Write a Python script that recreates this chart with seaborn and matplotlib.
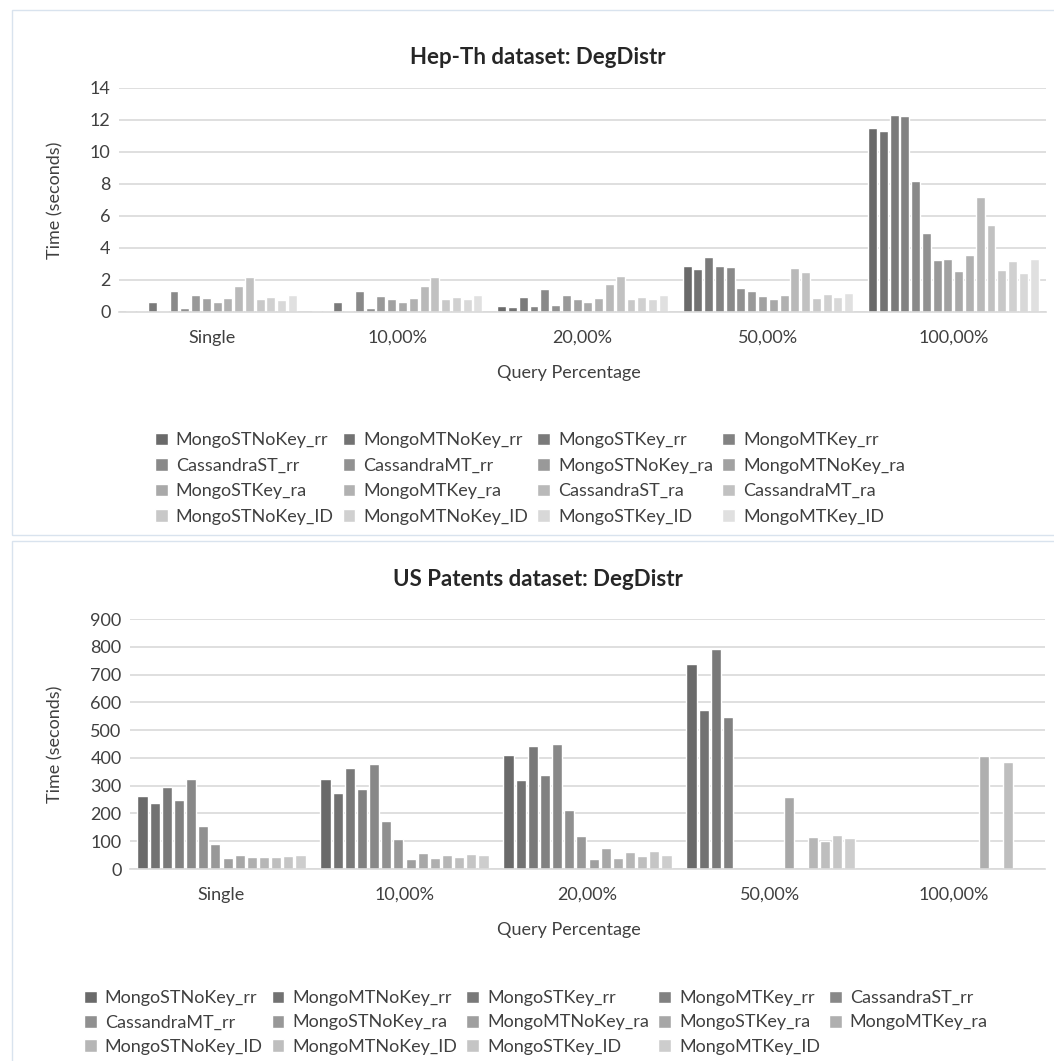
import numpy as np
import pandas as pd
import seaborn as sns
import matplotlib.pyplot as plt
from matplotlib.patches import Rectangle

# categories
groups = ["Single", "10,00%", "20,00%", "50,00%", "100,00%"]

# Hep-Th series (16)
hep_series = ["MongoSTNoKey_rr", "MongoMTNoKey_rr", "MongoSTKey_rr", "MongoMTKey_rr",
              "CassandraST_rr", "CassandraMT_rr", "MongoSTNoKey_ra", "MongoMTNoKey_ra",
              "MongoSTKey_ra", "MongoMTKey_ra", "CassandraST_ra", "CassandraMT_ra",
              "MongoSTNoKey_ID", "MongoMTNoKey_ID", "MongoSTKey_ID", "MongoMTKey_ID"]
hep_single = [0.06, 0.05, 0.6, 0.05, 1.3, 0.25, 1.05, 0.88, 0.6, 0.88, 1.6, 2.17, 0.8, 0.92, 0.73, 1.05]
hep_10 = [0.05, 0.05, 0.6, 0.05, 1.3, 0.25, 1.0, 0.8, 0.6, 0.85, 1.6, 2.17, 0.8, 0.92, 0.8, 1.05]
hep_20 = [0.35, 0.3, 0.92, 0.35, 1.42, 0.42, 1.05, 0.8, 0.6, 0.85, 1.73, 2.23, 0.8, 0.92, 0.8, 1.05]
hep_50 = [2.86, 2.67, 3.42, 2.86, 2.8, 1.48, 1.3, 0.98, 0.8, 1.05, 2.73, 2.48, 0.86, 1.1, 0.92, 1.17]
hep_100 = [11.5, 11.32, 12.32, 12.25, 8.18, 4.93, 3.24, 3.3, 2.55, 3.55, 7.18, 5.43, 2.61, 3.17, 2.42, 3.3]

# US Patents series (14), NaN = no bar
us_series = ["MongoSTNoKey_rr", "MongoMTNoKey_rr", "MongoSTKey_rr", "MongoMTKey_rr",
             "CassandraST_rr", "CassandraMT_rr", "MongoSTNoKey_ra", "MongoMTNoKey_ra",
             "MongoSTKey_ra", "MongoMTKey_ra",
             "MongoSTNoKey_ID", "MongoMTNoKey_ID", "MongoSTKey_ID", "MongoMTKey_ID"]
nan = np.nan
us_single = [264, 236, 294, 247, 325, 154, 91, 38, 52, 42, 44, 44, 48, 52]
us_10 = [325, 272, 365, 289, 377, 172, 107, 37, 59, 41, 52, 44, 55, 52]
us_20 = [412, 322, 444, 340, 451, 214, 120, 37, 77, 41, 62, 48, 66, 52]
us_50 = [739, 574, 793, 548, nan, nan, nan, nan, 260, nan, 116, 102, 124, 113]
us_100 = [nan, nan, nan, nan, nan, nan, nan, nan, nan, 406, nan, 384, nan, nan]


def long_table(series, rows):
    recs = []
    for g, vals in zip(groups, rows):
        for s, v in zip(series, vals):
            recs.append({"group": g, "series": s, "value": v})
    return pd.DataFrame(recs)


hep_df = long_table(hep_series, [hep_single, hep_10, hep_20, hep_50, hep_100])
us_df = long_table(us_series, [us_single, us_10, us_20, us_50, us_100])

sns.set_style("white")
plt.rcParams['font.family'] = ['Lato', 'DejaVu Sans']

W, H = 1054, 1061
fig = plt.figure(figsize=(W / 100, H / 100), dpi=100)

# chart frames
frame_col = "#d9e3ee"
fig.patches.append(Rectangle((12 / W, 1 - 535 / H), 1.2, 525 / H, transform=fig.transFigure,
                             fill=False, edgecolor=frame_col, lw=1))
fig.patches.append(Rectangle((12 / W, -0.1), 1.2, (0.1 + 1 - 541 / H), transform=fig.transFigure,
                             fill=False, edgecolor=frame_col, lw=1))


def grays(n, lo, hi):
    return [(v, v, v) for v in np.linspace(lo, hi, n) / 255]


def draw(df, series, box, ylim, yticks, title, title_y, xlab_y,
         leg_x, leg_y, ncol, lspace, cspace):
    l, t, r, b = box
    ax = fig.add_axes([l / W, 1 - b / H, (r - l) / W, (b - t) / H])
    pal = grays(len(series), 106, 224 if len(series) == 16 else 205)
    sns.barplot(data=df, x="group", y="value", hue="series", order=groups, hue_order=series,
                palette=pal, errorbar=None, width=0.93, gap=0.17, saturation=1, ax=ax)
    ax.set_xlim(-0.5, 4.5)
    ax.set_ylim(*ylim)
    ax.set_yticks(yticks)
    ax.yaxis.grid(True, color="#d9d9d9", lw=1.2)
    ax.set_axisbelow(True)
    for s in ["left", "right", "top"]:
        ax.spines[s].set_visible(False)
    ax.spines["bottom"].set_color("#d9d9d9")
    ax.spines["bottom"].set_linewidth(1.2)
    ax.tick_params(axis="both", length=0, labelsize=13, colors="#404040")
    ax.tick_params(axis="x", pad=13)
    ax.tick_params(axis="y", pad=6)
    ax.set_xlabel("")
    ax.set_ylabel("")
    fig.text(538 / W, 1 - title_y / H, title, ha="center", va="center", fontsize=16,
             fontweight="bold", color="#262626")
    fig.text(569 / W, 1 - xlab_y / H, "Query Percentage", ha="center", va="center",
             fontsize=13, color="#404040")
    fig.text(55 / W, 1 - (t + b) / 2 / H, "Time (seconds)", rotation=90, ha="center",
             va="center", fontsize=13, color="#404040")
    handles, labels = ax.get_legend_handles_labels()
    ax.get_legend().remove()
    # legend fills row by row
    n = len(handles)
    nrows = int(np.ceil(n / ncol))
    order = [rr * ncol + c for c in range(ncol) for rr in range(nrows) if rr * ncol + c < n]
    fig.legend([handles[i] for i in order], [labels[i] for i in order], ncol=ncol,
               loc="center left", bbox_to_anchor=(leg_x / W, 1 - leg_y / H), frameon=False,
               borderpad=0, borderaxespad=0,
               fontsize=13, handlelength=0.7, handleheight=0.7, handletextpad=0.45,
               columnspacing=cspace, labelspacing=lspace, labelcolor="#404040")
    return ax


draw(hep_df, hep_series, (119, 88, 1046, 312), (0, 14), range(0, 15, 2),
     "Hep-Th dataset: DegDistr", 58, 373, 155, 478.5, 4, 0.52, 0.5)
draw(us_df, us_series, (130, 619, 1045, 869), (0, 900), range(0, 901, 100),
     "US Patents dataset: DegDistr", 580, 930, 84, 1022.5, 5, 0.46, 0.5)

plt.savefig("out.png", dpi=100)
